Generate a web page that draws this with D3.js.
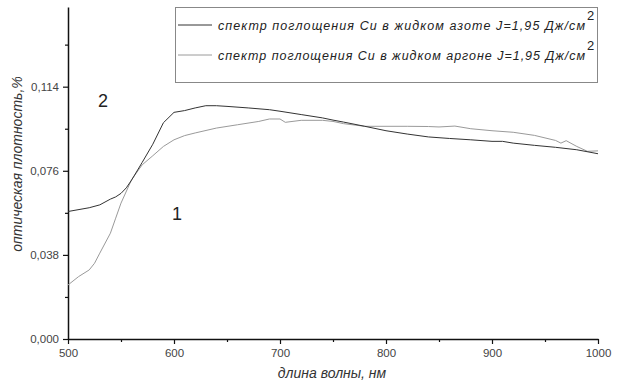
<!DOCTYPE html>
<html>
<head>
<meta charset="utf-8">
<script src="https://cdn.jsdelivr.net/npm/d3@7"></script>
<style>
  body { margin: 0; background: #fff; }
  text { font-family: "Liberation Sans", Arial, sans-serif; }
</style>
</head>
<body>
<svg id="chart" width="619" height="385"></svg>
<script>
// wavelength, nm
var waveN2 = [500, 520, 530, 540, 545, 550, 555, 560, 570, 580, 590, 600, 610, 620, 630, 640, 650, 670, 690, 700, 720, 740, 750, 760, 780, 800, 820, 840, 860, 880, 900, 910, 920, 940, 960, 980, 1000];
// curve 2: absorption in liquid nitrogen
var densN2 = [0.0576, 0.0593, 0.0606, 0.0632, 0.0642, 0.0658, 0.0683, 0.0718, 0.0798, 0.088, 0.0977, 0.1024, 0.1032, 0.1044, 0.1054, 0.1054, 0.1051, 0.1044, 0.1036, 0.1029, 0.1014, 0.0999, 0.0989, 0.098, 0.0961, 0.0941, 0.0926, 0.0913, 0.0906, 0.09, 0.0893, 0.0893, 0.0885, 0.0875, 0.0866, 0.0855, 0.0837];

var waveAr = [500, 510, 520, 525, 530, 540, 545, 550, 560, 570, 580, 590, 600, 610, 620, 640, 660, 680, 690, 700, 705, 720, 740, 750, 760, 780, 800, 820, 840, 850, 865, 880, 900, 920, 940, 960, 965, 970, 980, 990, 1000];
// curve 1: absorption in liquid argon
var densAr = [0.0244, 0.0282, 0.0312, 0.0342, 0.0388, 0.0478, 0.0546, 0.0614, 0.072, 0.0787, 0.0828, 0.087, 0.09, 0.0919, 0.0931, 0.0953, 0.0968, 0.0983, 0.0994, 0.0994, 0.0979, 0.0988, 0.0988, 0.0983, 0.0973, 0.0961, 0.0961, 0.0961, 0.096, 0.0958, 0.0962, 0.095, 0.0941, 0.0934, 0.092, 0.0897, 0.0885, 0.0896, 0.087, 0.0848, 0.085];

var yTicks = [0, 0.038, 0.076, 0.114];
var xTicks = [500, 600, 700, 800, 900, 1000];
var legendLabels = ['спектр поглощения Cu в жидком азоте J=1,95 Дж/см', 'спектр поглощения Cu в жидком аргоне J=1,95 Дж/см'];

var svg = d3.select('#chart');
var mLeft = 68, mRight = 598, mTop = 7, mBottom = 339;

var x = d3.scaleLinear().domain([500, 1000]).range([mLeft, mRight]);
var y = d3.scaleLinear().domain([0, 0.150]).range([mBottom, mTop]);

var fmt = d => d3.format('.3f')(d).replace('.', ',');

// minor ticks first
svg.append('g')
  .attr('transform', 'translate(' + mLeft + ',0)')
  .call(d3.axisLeft(y).tickValues(d3.range(0.019, 0.150, 0.038)).tickSize(3).tickFormat(''))
  .call(g => g.select('.domain').remove());
svg.append('g')
  .attr('transform', 'translate(0,' + mBottom + ')')
  .call(d3.axisBottom(x).tickValues([550, 650, 750, 850, 950]).tickSize(3).tickFormat(''))
  .call(g => g.select('.domain').remove());

var yAxis = svg.append('g')
  .attr('transform', 'translate(' + mLeft + ',0)')
  .call(d3.axisLeft(y).tickValues(yTicks).tickSize(5).tickSizeOuter(0).tickFormat(fmt));
var xAxis = svg.append('g')
  .attr('transform', 'translate(0,' + mBottom + ')')
  .call(d3.axisBottom(x).tickValues(xTicks).tickSize(5).tickSizeOuter(0).tickFormat(d3.format('d')));

svg.selectAll('.tick line').attr('stroke', '#111').attr('stroke-width', 1.2);
svg.selectAll('.domain').attr('stroke', '#111').attr('stroke-width', 1.5);
svg.selectAll('.tick text')
  .attr('fill', '#444')
  .style('font-size', '11.5px')
  .style('font-family', '"Liberation Sans", Arial, sans-serif');
yAxis.selectAll('.tick text').attr('x', -9);
xAxis.selectAll('.tick text').attr('y', 10);

// axis titles
svg.append('text')
  .attr('transform', 'translate(22,164) rotate(-90)')
  .attr('text-anchor', 'middle')
  .attr('font-style', 'italic')
  .attr('font-size', 14)
  .attr('fill', '#333')
  .text('оптическая плотность,%');
svg.append('text')
  .attr('x', 332).attr('y', 378)
  .attr('text-anchor', 'middle')
  .attr('font-style', 'italic')
  .attr('font-size', 14)
  .attr('fill', '#333')
  .text('длина волны, нм');

var line = d3.line().x(d => x(d[0])).y(d => y(d[1]));

svg.append('path')
  .attr('d', line(d3.zip(waveAr, densAr)))
  .attr('fill', 'none')
  .attr('stroke', '#9a9a9a')
  .attr('stroke-width', 1);
svg.append('path')
  .attr('d', line(d3.zip(waveN2, densN2)))
  .attr('fill', 'none')
  .attr('stroke', '#333')
  .attr('stroke-width', 1);

// curve labels
svg.append('text').attr('x', 103).attr('y', 107).attr('text-anchor', 'middle')
  .attr('font-family', 'Lato, sans-serif').attr('font-size', 18).attr('fill', '#222').text('2');
svg.append('text').attr('x', 177).attr('y', 220).attr('text-anchor', 'middle')
  .attr('font-family', 'Lato, sans-serif').attr('font-size', 18).attr('fill', '#222').text('1');

// legend
var legend = svg.append('g');
legend.append('rect')
  .attr('x', 175.5).attr('y', 7.5).attr('width', 422).attr('height', 75)
  .attr('fill', '#fff').attr('stroke', '#888').attr('stroke-width', 1);
var legendColors = ['#333', '#9a9a9a'];
legendLabels.forEach((lab, i) => {
  var ly = 25 + i * 30;
  legend.append('line')
    .attr('x1', 178).attr('x2', 212).attr('y1', ly).attr('y2', ly)
    .attr('stroke', legendColors[i]).attr('stroke-width', 1);
  legend.append('text')
    .attr('x', 218).attr('y', ly + 4.5)
    .attr('font-style', 'italic')
    .attr('font-size', 12.5)
    .attr('fill', '#222')
    .attr('textLength', 367)
    .text(lab);
  legend.append('text')
    .attr('x', 587).attr('y', ly - 5)
    .attr('font-size', 13)
    .attr('fill', '#222')
    .text('2');
});
</script>
</body>
</html>
